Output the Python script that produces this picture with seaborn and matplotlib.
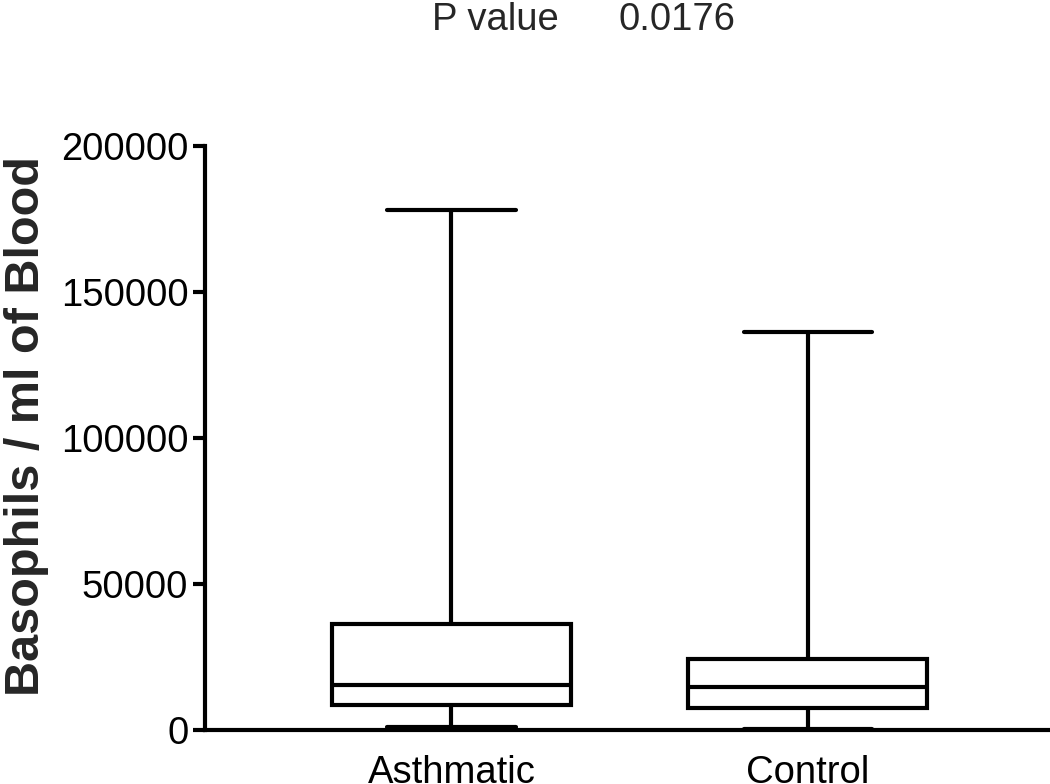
import matplotlib

matplotlib.use("Agg")
import matplotlib.pyplot as plt
import pandas as pd
import seaborn as sns

# five-number summaries: min, Q1, median, Q3, max
groups = ["Asthmatic", "Control"]
asthmatic_values = [1000, 8600, 15400, 36300, 178000]
control_values = [500, 7500, 14700, 24300, 136300]
y_ticks = [0, 50000, 100000, 150000, 200000]
y_label = "Basophils / ml of Blood"
p_label = "P value"
p_value = "0.0176"

sns.set_style("ticks")
plt.rcParams["font.family"] = ["Liberation Sans", "DejaVu Sans"]

df = pd.DataFrame(
    {
        "group": [groups[0]] * len(asthmatic_values) + [groups[1]] * len(control_values),
        "count": asthmatic_values + control_values,
    }
)

fig = plt.figure(figsize=(10.5, 7.84), dpi=100)
ax = fig.add_axes([0.1952, 0.0689, 0.8048, 0.745])

sns.boxplot(
    data=df,
    x="group",
    y="count",
    order=groups,
    whis=(0, 100),
    width=0.67,
    color="white",
    linecolor="black",
    linewidth=3,
    showfliers=False,
    capwidths=0.36,
    ax=ax,
)

ax.set_xlim(-0.692, 1.68)
ax.set_ylim(0, 200000)
ax.set_yticks(y_ticks)
ax.ticklabel_format(axis="y", style="plain")
ax.set_xlabel("")
ax.set_ylabel(y_label, fontsize=35, fontweight="bold")
ax.yaxis.set_label_coords(-0.184, 0.52)

for side in ["top", "right"]:
    ax.spines[side].set_visible(False)
for side in ["left", "bottom"]:
    ax.spines[side].set_linewidth(3)
    ax.spines[side].set_color("black")

ax.tick_params(axis="y", length=9, width=3, pad=3, labelsize=27.5, colors="black")
ax.tick_params(axis="x", length=0, pad=18, labelsize=27.5, colors="black")

fig.text(0.411, 0.962, p_label, fontsize=27.5, va="baseline", ha="left")
fig.text(0.589, 0.962, p_value, fontsize=27.5, va="baseline", ha="left")

fig.savefig("out.png", dpi=100)
